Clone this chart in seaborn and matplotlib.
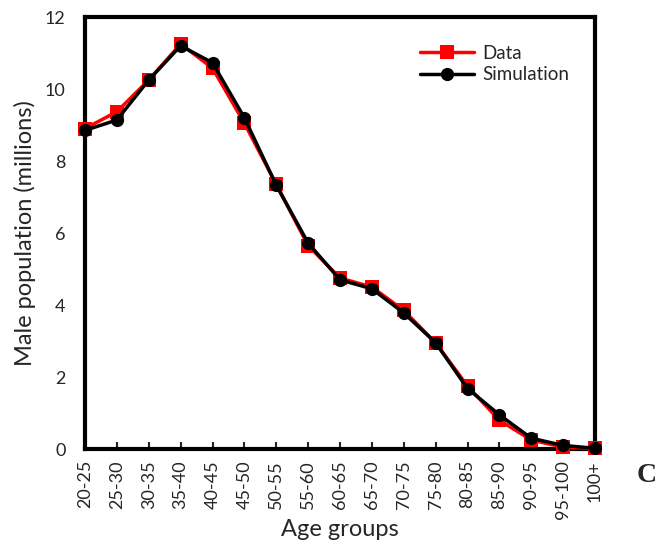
import numpy as np
import pandas as pd
import matplotlib
matplotlib.use("Agg")
import matplotlib.pyplot as plt
import seaborn as sns

# Age groups and male population (millions)
age_groups = ["20-25", "25-30", "30-35", "35-40", "40-45", "45-50", "50-55",
              "55-60", "60-65", "65-70", "70-75", "75-80", "80-85", "85-90",
              "90-95", "95-100", "100+"]
data_vals = [8.9, 9.37, 10.25, 11.25, 10.58, 9.05, 7.35, 5.65, 4.75, 4.5,
             3.85, 2.95, 1.75, 0.8, 0.25, 0.05, 0.02]
sim_vals = [8.85, 9.14, 10.25, 11.2, 10.73, 9.2, 7.33, 5.72, 4.7, 4.45,
            3.78, 2.95, 1.68, 0.95, 0.3, 0.1, 0.02]

sns.set_style("white")
plt.rcParams['font.family'] = ['Lato', 'DejaVu Sans']

df = pd.DataFrame({"age": age_groups, "Data": data_vals, "Simulation": sim_vals})

fig = plt.figure(figsize=(6.58, 5.44), dpi=100)
ax = fig.add_axes([85 / 658, 1 - 449 / 544, (595 - 85) / 658, (449 - 17) / 544])

sns.lineplot(data=df, x="age", y="Data", ax=ax, color="red", lw=2.5,
             marker="s", markersize=9.5, markeredgewidth=0, label="Data",
             clip_on=False, zorder=3)
sns.lineplot(data=df, x="age", y="Simulation", ax=ax, color="black", lw=2.5,
             marker="o", markersize=9.5, markeredgewidth=0, label="Simulation",
             clip_on=False, zorder=4)

ax.set_xlim(0, len(age_groups) - 1)
ax.set_ylim(0, 12)
ax.set_yticks(np.arange(0, 13, 2))
ax.set_xticks(range(len(age_groups)))
ax.set_xticklabels(age_groups, rotation=90)
ax.tick_params(axis="x", direction="in", length=5, width=1.5, labelsize=13,
               bottom=True, pad=8)
ax.tick_params(axis="y", length=0, labelsize=13, pad=14)
for s in ax.spines.values():
    s.set_linewidth(3)
    s.set_color("black")

ax.set_xlabel("Age groups", fontsize=17, labelpad=0)
ax.set_ylabel("Male population (millions)", fontsize=17, labelpad=6)

ax.legend(loc="upper right", bbox_to_anchor=(0.982, 0.975), frameon=False,
          fontsize=13.5, handlelength=2.9, handletextpad=0.4, labelspacing=0.25)

fig.text(647 / 658, 1 - 475 / 544, "C", family="Liberation Serif",
         fontweight="bold", fontsize=20, ha="center", va="center")

fig.savefig("out.png", dpi=100)
